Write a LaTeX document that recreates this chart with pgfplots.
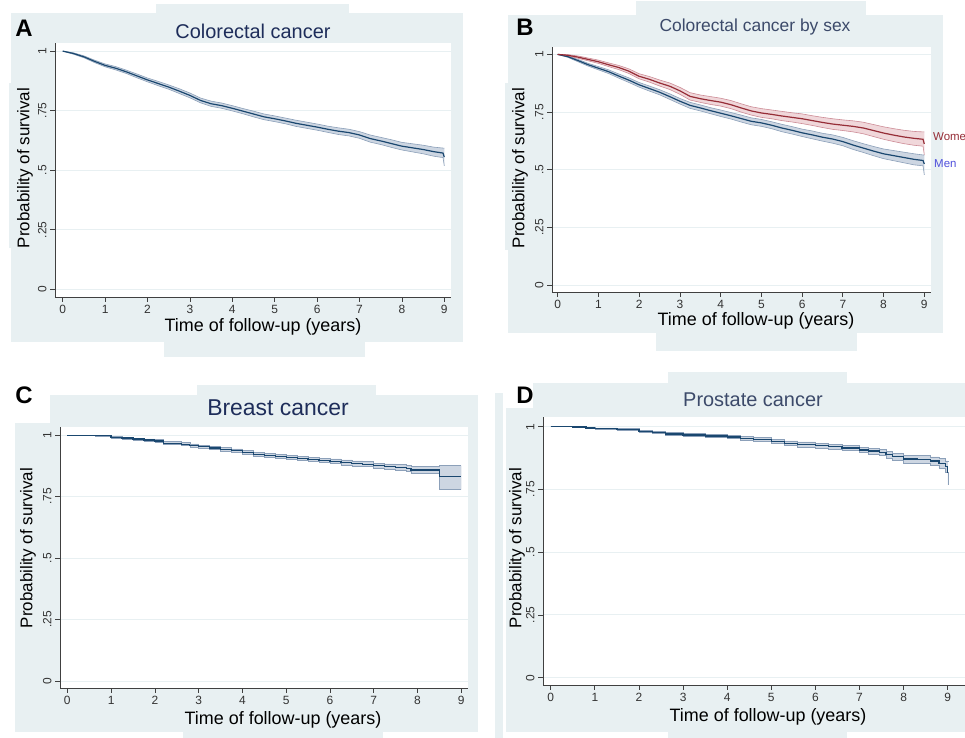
\documentclass[border=0pt]{standalone}
\usepackage{fontspec}
\setmainfont{Liberation Sans}
\usepackage{pgfplots}
\usepackage{pgfplotstable}
\pgfplotsset{compat=1.18}
\usepgfplotslibrary{fillbetween}

\definecolor{bg}{RGB}{232,240,242}
\definecolor{navy}{RGB}{26,71,111}
\definecolor{bandb}{RGB}{205,214,226}
\definecolor{bandbe}{RGB}{140,160,185}
\definecolor{maroon}{RGB}{150,45,55}
\definecolor{bandr}{RGB}{238,208,212}
\definecolor{bandre}{RGB}{205,140,150}
\definecolor{ttl}{RGB}{30,45,90}
\definecolor{ttlb}{RGB}{60,74,106}
\definecolor{menc}{RGB}{80,80,220}

% a layer under everything pgfplots draws (grey graph regions);
% CI bands (pre main) sit above the axis frame, curves above the bands
\pgfdeclarelayer{bglayer}
\pgfdeclarelayer{axis background}
\pgfdeclarelayer{axis grid}
\pgfdeclarelayer{axis ticks}
\pgfdeclarelayer{axis lines}
\pgfdeclarelayer{axis tick labels}
\pgfdeclarelayer{pre main}
\pgfdeclarelayer{axis descriptions}
\pgfdeclarelayer{axis foreground}
\pgfplotsset{
  layers/bgset/.define layer set={bglayer,axis background,axis grid,axis ticks,
    axis lines,axis tick labels,main,pre main,axis descriptions,axis foreground}{},
  set layers=bgset,
}

% Kaplan-Meier estimates: time, survival, lower CI, upper CI
\pgfplotstableread{
t s lo hi
0 1.000 1.000 1.000
0.25 0.990 0.987 0.993
0.5 0.976 0.972 0.980
0.75 0.957 0.952 0.962
1.0 0.940 0.934 0.946
1.25 0.928 0.921 0.935
1.5 0.913 0.906 0.920
1.75 0.896 0.888 0.904
2.0 0.879 0.871 0.887
2.25 0.864 0.855 0.873
2.5 0.849 0.840 0.858
2.75 0.832 0.822 0.842
3.0 0.814 0.804 0.824
3.25 0.793 0.783 0.803
3.5 0.779 0.768 0.790
3.75 0.771 0.760 0.782
4.0 0.760 0.749 0.771
4.25 0.748 0.737 0.759
4.5 0.736 0.724 0.748
4.75 0.724 0.712 0.736
5.0 0.716 0.704 0.728
5.25 0.707 0.695 0.719
5.5 0.697 0.684 0.710
5.75 0.689 0.676 0.702
6.0 0.681 0.668 0.694
6.25 0.672 0.659 0.685
6.5 0.664 0.650 0.678
6.75 0.658 0.644 0.672
7.0 0.648 0.634 0.662
7.25 0.633 0.618 0.648
7.5 0.623 0.608 0.638
7.75 0.612 0.596 0.628
8.0 0.601 0.585 0.617
8.25 0.594 0.577 0.611
8.5 0.587 0.569 0.605
8.75 0.578 0.559 0.597
8.97 0.572 0.553 0.593
9.0 0.555 0.518 0.593
}\tabA

\pgfplotstableread{
t s lo hi
0 1 1 1
0.25 0.996 0.993 0.999
0.5 0.988 0.983 0.993
0.75 0.978 0.972 0.984
1.0 0.968 0.961 0.975
1.25 0.955 0.947 0.963
1.5 0.943 0.934 0.952
1.75 0.927 0.917 0.937
2.0 0.905 0.894 0.916
2.25 0.892 0.880 0.904
2.5 0.876 0.863 0.889
2.75 0.862 0.848 0.876
3.0 0.842 0.827 0.857
3.25 0.818 0.802 0.834
3.5 0.808 0.792 0.824
3.75 0.800 0.783 0.817
4.0 0.793 0.776 0.810
4.25 0.782 0.765 0.800
4.5 0.768 0.750 0.786
4.75 0.755 0.737 0.773
5.0 0.746 0.727 0.765
5.25 0.740 0.721 0.759
5.5 0.733 0.713 0.753
5.75 0.727 0.707 0.747
6.0 0.721 0.700 0.742
6.25 0.713 0.692 0.734
6.5 0.705 0.683 0.727
6.75 0.698 0.675 0.721
7.0 0.693 0.670 0.716
7.25 0.688 0.664 0.712
7.5 0.681 0.656 0.706
7.75 0.670 0.644 0.696
8.0 0.659 0.632 0.686
8.25 0.650 0.622 0.678
8.5 0.642 0.613 0.671
8.75 0.636 0.606 0.666
8.97 0.632 0.602 0.664
9.0 0.612 0.565 0.664
}\tabBw

\pgfplotstableread{
t s lo hi
0 1 1 1
0.25 0.990 0.987 0.993
0.5 0.973 0.968 0.978
0.75 0.955 0.949 0.961
1.0 0.940 0.933 0.947
1.25 0.925 0.917 0.933
1.5 0.906 0.897 0.915
1.75 0.888 0.878 0.898
2.0 0.868 0.858 0.878
2.25 0.852 0.841 0.863
2.5 0.836 0.825 0.847
2.75 0.817 0.805 0.829
3.0 0.797 0.785 0.809
3.25 0.779 0.766 0.792
3.5 0.768 0.755 0.781
3.75 0.756 0.743 0.769
4.0 0.745 0.731 0.759
4.25 0.734 0.720 0.748
4.5 0.722 0.707 0.737
4.75 0.710 0.695 0.725
5.0 0.703 0.688 0.718
5.25 0.693 0.678 0.708
5.5 0.681 0.665 0.697
5.75 0.671 0.655 0.687
6.0 0.660 0.644 0.676
6.25 0.651 0.634 0.668
6.5 0.641 0.624 0.658
6.75 0.633 0.615 0.651
7.0 0.622 0.604 0.640
7.25 0.607 0.588 0.626
7.5 0.594 0.575 0.613
7.75 0.581 0.561 0.601
8.0 0.569 0.548 0.590
8.25 0.561 0.539 0.583
8.5 0.553 0.530 0.576
8.75 0.545 0.521 0.569
8.97 0.540 0.517 0.564
9.0 0.525 0.478 0.564
}\tabBm

\pgfplotstableread{
t s lo hi
0 1 1 1
0.65 0.997 0.995 0.999
1.0 0.991 0.988 0.994
1.25 0.988 0.984 0.992
1.5 0.984 0.980 0.988
1.75 0.980 0.975 0.985
2.0 0.976 0.971 0.981
2.2 0.967 0.962 0.973
2.6 0.963 0.957 0.969
2.8 0.958 0.952 0.964
3.0 0.953 0.947 0.959
3.25 0.948 0.941 0.955
3.5 0.942 0.935 0.949
3.75 0.936 0.929 0.944
4.0 0.929 0.921 0.937
4.25 0.922 0.914 0.930
4.5 0.917 0.909 0.925
4.75 0.912 0.904 0.920
5.0 0.909 0.900 0.918
5.25 0.905 0.896 0.914
5.5 0.901 0.892 0.910
5.75 0.897 0.888 0.906
6.0 0.893 0.884 0.903
6.25 0.889 0.879 0.899
6.5 0.885 0.875 0.895
6.75 0.882 0.872 0.892
7.0 0.875 0.864 0.886
7.25 0.872 0.861 0.883
7.5 0.869 0.857 0.881
7.75 0.864 0.851 0.877
7.85 0.858 0.844 0.872
8.5 0.833 0.778 0.876
9.0 0.833 0.778 0.876
}\tabC

\pgfplotstableread{
t s lo hi
0 1 1 1
0.5 0.999 0.998 1.000
0.8 0.995 0.993 0.997
1.0 0.992 0.989 0.995
1.5 0.988 0.984 0.992
2.0 0.981 0.976 0.986
2.3 0.977 0.972 0.982
2.6 0.971 0.965 0.977
3.0 0.967 0.961 0.973
3.5 0.963 0.956 0.970
4.0 0.959 0.952 0.966
4.3 0.952 0.944 0.960
4.6 0.948 0.940 0.956
5.0 0.941 0.932 0.950
5.3 0.934 0.925 0.943
5.6 0.929 0.919 0.939
6.0 0.924 0.914 0.934
6.3 0.920 0.910 0.930
6.6 0.915 0.904 0.926
7.0 0.907 0.896 0.918
7.2 0.903 0.891 0.915
7.45 0.898 0.886 0.910
7.6 0.889 0.876 0.902
7.75 0.881 0.867 0.895
8.0 0.871 0.856 0.886
8.3 0.869 0.853 0.885
8.6 0.863 0.846 0.880
8.8 0.854 0.835 0.873
8.95 0.842 0.820 0.864
9.0 0.815 0.768 0.860
}\tabD

\pgfplotsset{
  km/.style={
    scale only axis, anchor=south west,
    axis x line=bottom, axis y line=left,
    axis line style={-, draw=black!75, line width=0.8bp},
    axis background/.style={fill=white},
    xtick={0,1,...,9}, ytick={0,0.25,0.5,0.75,1},
    yticklabels={0,.25,.5,.75,1},
    tick align=outside, major tick length=5bp,
    tick style={draw=black!75, line width=0.7bp},
    ymajorgrids, grid style={draw=bg, line width=1bp},
    ticklabel style={font=\fontsize{12}{12}\selectfont, text=black!80},
    yticklabel style={rotate=90, anchor=south},
    /pgf/number format/assume math mode=true,
    no markers,
  },
  bandedge/.style={draw=#1, line width=0.6bp, on layer=axis foreground},
  kmline/.style={draw=#1, line width=1.2bp, on layer=axis foreground},
}

\newcommand{\axt}{\fontsize{18}{18}\selectfont}

\begin{document}
\begin{tikzpicture}
\pgfsetlayers{bglayer,axis background,axis grid,axis ticks,axis lines,axis tick labels,main,pre main,axis descriptions,axis foreground}
\begin{pgfonlayer}{bglayer}
\fill[white] (0,0) rectangle (965bp,738bp);
% graph regions (panels pasted together)
\fill[bg] (11bp,396bp) rectangle (463bp,725bp);
\fill[bg] (156bp,695bp) rectangle (349bp,734bp);
\fill[bg] (164bp,381bp) rectangle (365bp,396bp);
\fill[bg] (9bp,490bp) rectangle (11bp,655bp);

\fill[bg] (508bp,405bp) rectangle (943bp,723bp);
\fill[bg] (636bp,696bp) rectangle (866bp,737bp);
\fill[bg] (656bp,387bp) rectangle (857bp,405bp);
\fill[bg] (505bp,488bp) rectangle (508bp,655bp);

\fill[bg] (15bp,6bp) rectangle (478bp,343bp);
\fill[bg] (197bp,311bp) rectangle (376bp,353bp);
\fill[bg] (183bp,0bp) rectangle (383bp,6bp);
\fill[white] (15bp,315bp) rectangle (50bp,343bp);

\fill[bg] (506bp,6bp) rectangle (965bp,355bp);
\fill[bg] (668bp,321bp) rectangle (847bp,366bp);
\fill[bg] (668bp,0bp) rectangle (847bp,6bp);
\fill[bg] (495bp,0bp) rectangle (503bp,345bp);
\fill[white] (506bp,330bp) rectangle (533bp,355bp);
\end{pgfonlayer}

% A
\begin{axis}[km, at={(55bp,441bp)}, width=396bp, height=254bp,
  xmin=-0.182, xmax=9.158, ymin=-0.032, ymax=1.034]
\addplot[name path=ahi, bandedge=bandbe] table[x=t,y=hi]{\tabA};
\addplot[name path=alo, bandedge=bandbe] table[x=t,y=lo]{\tabA};
\addplot[fill=bandb, draw=none] fill between[of=ahi and alo];
\addplot[kmline=navy] table[x=t,y=s]{\tabA};
\end{axis}

% B
\begin{axis}[km, at={(552bp,446bp)}, width=379bp, height=245bp,
  xmin=-0.14, xmax=9.165, ymin=-0.030, ymax=1.032]
\addplot[name path=mhi, bandedge=bandbe] table[x=t,y=hi]{\tabBm};
\addplot[name path=mlo, bandedge=bandbe] table[x=t,y=lo]{\tabBm};
\addplot[fill=bandb, draw=none] fill between[of=mhi and mlo];
\addplot[name path=whi, bandedge=bandre] table[x=t,y=hi]{\tabBw};
\addplot[name path=wlo, bandedge=bandre] table[x=t,y=lo]{\tabBw};
\addplot[fill=bandr, draw=none, fill opacity=0.85] fill between[of=whi and wlo];
\addplot[kmline=navy] table[x=t,y=s]{\tabBm};
\addplot[kmline=maroon] table[x=t,y=s]{\tabBw};
\end{axis}

% C
\begin{axis}[km, at={(60bp,50bp)}, width=408bp, height=261bp,
  xmin=-0.167, xmax=9.153, ymin=-0.028, ymax=1.033, const plot]
\addplot[name path=chi, bandedge=bandbe, const plot] table[x=t,y=hi]{\tabC};
\addplot[name path=clo, bandedge=bandbe, const plot] table[x=t,y=lo]{\tabC};
\addplot[fill=bandb, draw=none] fill between[of=chi and clo];
\addplot[kmline=navy, const plot] table[x=t,y=s]{\tabC};
\end{axis}

% D
\begin{axis}[km, at={(543bp,53bp)}, width=422bp, height=268bp,
  xmin=-0.175, xmax=9.39, ymin=-0.029, ymax=1.0386]
\addplot[name path=dhi, bandedge=bandbe, const plot] table[x=t,y=hi]{\tabD};
\addplot[name path=dlo, bandedge=bandbe, const plot] table[x=t,y=lo]{\tabD};
\addplot[fill=bandb, draw=none] fill between[of=dhi and dlo];
\addplot[kmline=navy, const plot] table[x=t,y=s]{\tabD};
\end{axis}

% titles, labels, panel letters
\node[text=ttl, font=\fontsize{20}{20}\selectfont] at (253bp,707bp) {Colorectal cancer};
\node[font=\bfseries\fontsize{24}{24}\selectfont] at (24bp,710bp) {A};
\node[rotate=90, font=\fontsize{17}{17}\selectfont] at (25bp,570bp) {Probability of survival};
\node[font=\axt] at (263bp,411bp) {Time of follow-up (years)};

\node[text=ttlb, font=\fontsize{17.5}{17.5}\selectfont] at (755bp,711bp) {Colorectal cancer by sex};
\node[font=\bfseries\fontsize{24}{24}\selectfont] at (525bp,711bp) {B};
\node[rotate=90, font=\fontsize{17}{17}\selectfont] at (520bp,570bp) {Probability of survival};
\node[font=\axt] at (756bp,417bp) {Time of follow-up (years)};
\node[anchor=west, inner sep=0pt, text=maroon, font=\fontsize{11.5}{11.5}\selectfont] at (933bp,601bp) {Wome};
\node[anchor=west, inner sep=0pt, text=menc, font=\fontsize{11.5}{11.5}\selectfont] at (934bp,574bp) {Men};

\node[text=ttl, font=\fontsize{23}{23}\selectfont] at (278bp,330bp) {Breast cancer};
\node[font=\bfseries\fontsize{24}{24}\selectfont] at (24bp,343bp) {C};
\node[rotate=90, font=\fontsize{17}{17}\selectfont] at (28bp,190bp) {Probability of survival};
\node[font=\axt] at (283bp,18bp) {Time of follow-up (years)};

\node[text=ttlb, font=\fontsize{20}{20}\selectfont] at (753bp,338bp) {Prostate cancer};
\node[font=\bfseries\fontsize{24}{24}\selectfont] at (525bp,343bp) {D};
\node[rotate=90, font=\fontsize{17}{17}\selectfont] at (517bp,190bp) {Probability of survival};
\node[font=\axt] at (768bp,21bp) {Time of follow-up (years)};

\pgfresetboundingbox
\useasboundingbox (0,0) rectangle (965bp,738bp);
\end{tikzpicture}
\end{document}
